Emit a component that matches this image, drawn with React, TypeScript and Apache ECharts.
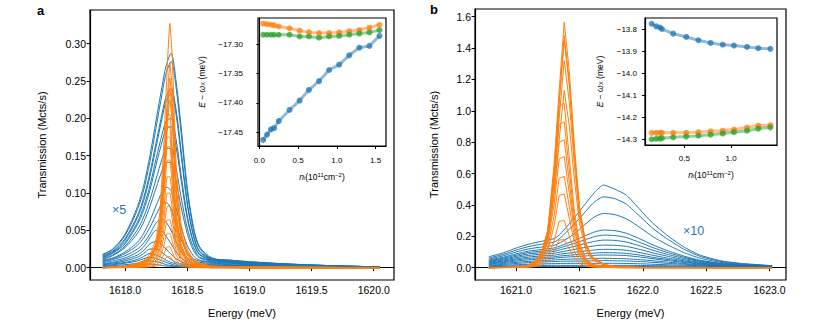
import React, { useEffect, useRef } from "react";
import * as echarts from "echarts";

const BLUE = "#1f77b4";
const ORANGE = "#ff7f0e";
const GREEN = "#2ca02c";
const FONT = "Liberation Sans, Arial, sans-serif";

// ---------- Panel a: energy grids ----------
const energyA_blue = [1617.82, 1617.9, 1618.0, 1618.1, 1618.15, 1618.2, 1618.25, 1618.3, 1618.33, 1618.37, 1618.41, 1618.45, 1618.5, 1618.55, 1618.6, 1618.7, 1618.85, 1619.0, 1619.3, 1619.6, 1620.05];
const blueA: number[][] = [
  [0.018, 0.025, 0.045, 0.082, 0.110, 0.150, 0.198, 0.245, 0.270, 0.287, 0.250, 0.190, 0.108, 0.055, 0.028, 0.013, 0.010, 0.008, 0.005, 0.003, 0.001],
  [0.017, 0.024, 0.043, 0.078, 0.104, 0.142, 0.188, 0.235, 0.260, 0.276, 0.242, 0.182, 0.102, 0.051, 0.026, 0.012, 0.010, 0.008, 0.005, 0.003, 0.001],
  [0.016, 0.022, 0.039, 0.070, 0.094, 0.127, 0.168, 0.208, 0.229, 0.240, 0.212, 0.158, 0.088, 0.044, 0.022, 0.012, 0.009, 0.007, 0.005, 0.003, 0.001],
  [0.015, 0.021, 0.037, 0.067, 0.090, 0.122, 0.162, 0.202, 0.223, 0.233, 0.205, 0.152, 0.085, 0.042, 0.021, 0.011, 0.009, 0.007, 0.004, 0.003, 0.001],
  [0.014, 0.020, 0.034, 0.061, 0.082, 0.110, 0.146, 0.180, 0.196, 0.200, 0.172, 0.125, 0.070, 0.035, 0.018, 0.011, 0.008, 0.006, 0.004, 0.002, 0.001],
  [0.013, 0.019, 0.032, 0.058, 0.077, 0.104, 0.138, 0.170, 0.185, 0.189, 0.162, 0.118, 0.066, 0.033, 0.017, 0.010, 0.008, 0.006, 0.004, 0.002, 0.001],
  [0.012, 0.017, 0.029, 0.051, 0.068, 0.091, 0.119, 0.147, 0.159, 0.160, 0.133, 0.095, 0.053, 0.027, 0.014, 0.010, 0.007, 0.006, 0.004, 0.002, 0.001],
  [0.011, 0.016, 0.027, 0.046, 0.061, 0.082, 0.107, 0.131, 0.141, 0.141, 0.116, 0.082, 0.046, 0.023, 0.013, 0.009, 0.007, 0.005, 0.003, 0.002, 0.001],
  [0.010, 0.013, 0.021, 0.034, 0.046, 0.063, 0.083, 0.102, 0.108, 0.103, 0.080, 0.054, 0.030, 0.016, 0.010, 0.008, 0.006, 0.005, 0.003, 0.002, 0.001],
  [0.009, 0.012, 0.019, 0.030, 0.040, 0.054, 0.071, 0.086, 0.087, 0.079, 0.058, 0.038, 0.021, 0.012, 0.009, 0.007, 0.006, 0.004, 0.003, 0.002, 0.001],
  [0.008, 0.011, 0.016, 0.025, 0.033, 0.045, 0.060, 0.065, 0.061, 0.050, 0.035, 0.022, 0.013, 0.009, 0.007, 0.006, 0.005, 0.004, 0.002, 0.001, 0.000],
  [0.007, 0.009, 0.013, 0.021, 0.028, 0.040, 0.050, 0.048, 0.042, 0.032, 0.021, 0.013, 0.008, 0.006, 0.005, 0.005, 0.004, 0.003, 0.002, 0.001, 0.000],
  [0.006, 0.007, 0.011, 0.017, 0.023, 0.032, 0.035, 0.030, 0.025, 0.018, 0.012, 0.008, 0.005, 0.004, 0.004, 0.004, 0.003, 0.003, 0.002, 0.001, 0.000],
  [0.005, 0.006, 0.009, 0.014, 0.019, 0.025, 0.025, 0.020, 0.016, 0.011, 0.007, 0.005, 0.004, 0.003, 0.003, 0.003, 0.003, 0.002, 0.001, 0.001, 0.000],
  [0.004, 0.005, 0.007, 0.011, 0.015, 0.019, 0.017, 0.013, 0.010, 0.007, 0.005, 0.003, 0.003, 0.003, 0.003, 0.003, 0.002, 0.002, 0.001, 0.001, 0.000],
  [0.003, 0.004, 0.006, 0.009, 0.012, 0.014, 0.012, 0.009, 0.007, 0.005, 0.003, 0.002, 0.002, 0.002, 0.002, 0.002, 0.002, 0.001, 0.001, 0.000, 0.000],
  [0.002, 0.003, 0.004, 0.006, 0.008, 0.009, 0.008, 0.006, 0.004, 0.003, 0.002, 0.001, 0.001, 0.001, 0.001, 0.001, 0.001, 0.001, 0.000, 0.000, 0.000],
  [0.001, 0.002, 0.002, 0.003, 0.004, 0.005, 0.004, 0.003, 0.002, 0.002, 0.001, 0.001, 0.001, 0.001, 0.001, 0.001, 0.000, 0.000, 0.000, 0.000, 0.000],
];

const energyA_orange = [1617.82, 1618.0, 1618.1, 1618.15, 1618.2, 1618.25, 1618.28, 1618.31, 1618.34, 1618.36, 1618.38, 1618.41, 1618.45, 1618.5, 1618.55, 1618.6, 1618.7, 1619.0, 1620.05];
const orangeA: number[][] = [
  [0, 0.002, 0.006, 0.010, 0.018, 0.039, 0.075, 0.160, 0.271, 0.327, 0.281, 0.141, 0.059, 0.025, 0.011, 0.006, 0.002, 0.001, 0],
  [0, 0.002, 0.005, 0.008, 0.015, 0.033, 0.063, 0.134, 0.227, 0.274, 0.236, 0.118, 0.049, 0.021, 0.010, 0.005, 0.002, 0.001, 0],
  [0, 0.002, 0.005, 0.008, 0.014, 0.030, 0.058, 0.124, 0.211, 0.254, 0.218, 0.109, 0.046, 0.019, 0.009, 0.005, 0.002, 0.001, 0],
  [0, 0.0014, 0.0043, 0.0072, 0.013, 0.029, 0.055, 0.118, 0.199, 0.240, 0.206, 0.103, 0.043, 0.018, 0.008, 0.004, 0.001, 0.001, 0],
  [0, 0.0014, 0.004, 0.0068, 0.012, 0.027, 0.052, 0.110, 0.187, 0.225, 0.194, 0.097, 0.041, 0.017, 0.008, 0.004, 0.001, 0.001, 0],
  [0, 0.0017, 0.0046, 0.0084, 0.015, 0.032, 0.061, 0.127, 0.205, 0.205, 0.158, 0.076, 0.032, 0.013, 0.006, 0.003, 0.001, 0, 0],
  [0, 0.0016, 0.0043, 0.0078, 0.014, 0.029, 0.057, 0.117, 0.189, 0.189, 0.146, 0.070, 0.029, 0.012, 0.006, 0.003, 0.001, 0, 0],
  [0, 0.0014, 0.004, 0.0072, 0.013, 0.027, 0.052, 0.108, 0.175, 0.175, 0.135, 0.065, 0.027, 0.011, 0.005, 0.003, 0.001, 0, 0],
  [0, 0.0013, 0.0037, 0.0067, 0.012, 0.025, 0.048, 0.100, 0.162, 0.162, 0.125, 0.060, 0.025, 0.010, 0.005, 0.003, 0.001, 0, 0],
  [0, 0.0012, 0.0033, 0.0059, 0.010, 0.022, 0.043, 0.089, 0.144, 0.144, 0.111, 0.053, 0.022, 0.009, 0.004, 0.002, 0.001, 0, 0],
  [0, 0.001, 0.0028, 0.005, 0.009, 0.019, 0.037, 0.076, 0.122, 0.122, 0.095, 0.045, 0.019, 0.008, 0.004, 0.002, 0.001, 0, 0],
  [0, 0.0008, 0.0023, 0.0041, 0.007, 0.015, 0.030, 0.062, 0.100, 0.100, 0.077, 0.037, 0.015, 0.006, 0.003, 0.002, 0.001, 0, 0],
  [0, 0.0007, 0.0019, 0.0034, 0.006, 0.013, 0.025, 0.051, 0.082, 0.082, 0.064, 0.031, 0.013, 0.005, 0.003, 0.001, 0, 0, 0],
  [0, 0.0005, 0.0015, 0.0026, 0.005, 0.010, 0.019, 0.040, 0.064, 0.064, 0.050, 0.024, 0.010, 0.004, 0.002, 0.001, 0, 0, 0],
  [0, 0.0004, 0.001, 0.0019, 0.003, 0.007, 0.014, 0.028, 0.046, 0.046, 0.035, 0.017, 0.007, 0.003, 0.001, 0.001, 0, 0, 0],
  [0, 0.0002, 0.0006, 0.0011, 0.002, 0.004, 0.008, 0.017, 0.028, 0.028, 0.021, 0.010, 0.004, 0.002, 0.001, 0, 0, 0, 0],
  [0, 0.0001, 0.0003, 0.0006, 0.001, 0.002, 0.004, 0.009, 0.015, 0.015, 0.011, 0.005, 0.002, 0.001, 0, 0, 0, 0, 0],
];

// ---------- Panel b ----------
const energyB_blue = [1620.785, 1620.9, 1621.0, 1621.1, 1621.2, 1621.3, 1621.35, 1621.45, 1621.55, 1621.62, 1621.69, 1621.78, 1621.87, 1621.98, 1622.08, 1622.19, 1622.32, 1622.45, 1622.61, 1622.77, 1623.02];
const blueB: number[][] = [
  [0.070, 0.095, 0.125, 0.150, 0.168, 0.185, 0.215, 0.310, 0.410, 0.480, 0.527, 0.500, 0.463, 0.368, 0.283, 0.208, 0.134, 0.081, 0.045, 0.028, 0.013],
  [0.062, 0.085, 0.112, 0.135, 0.150, 0.163, 0.190, 0.270, 0.360, 0.420, 0.452, 0.440, 0.405, 0.325, 0.250, 0.185, 0.120, 0.073, 0.041, 0.025, 0.012],
  [0.055, 0.076, 0.100, 0.120, 0.132, 0.143, 0.160, 0.210, 0.280, 0.325, 0.346, 0.338, 0.312, 0.255, 0.198, 0.148, 0.098, 0.061, 0.035, 0.022, 0.011],
  [0.048, 0.067, 0.088, 0.106, 0.116, 0.126, 0.140, 0.170, 0.205, 0.228, 0.240, 0.236, 0.220, 0.183, 0.145, 0.110, 0.075, 0.048, 0.029, 0.019, 0.010],
  [0.044, 0.061, 0.080, 0.097, 0.106, 0.115, 0.128, 0.152, 0.180, 0.198, 0.208, 0.205, 0.192, 0.160, 0.128, 0.098, 0.068, 0.044, 0.027, 0.018, 0.010],
  [0.040, 0.055, 0.072, 0.088, 0.096, 0.104, 0.115, 0.134, 0.155, 0.168, 0.176, 0.174, 0.164, 0.138, 0.111, 0.086, 0.060, 0.040, 0.025, 0.017, 0.009],
  [0.036, 0.049, 0.064, 0.078, 0.086, 0.092, 0.100, 0.115, 0.130, 0.139, 0.144, 0.143, 0.136, 0.116, 0.094, 0.074, 0.052, 0.035, 0.022, 0.015, 0.009],
  [0.032, 0.043, 0.056, 0.068, 0.075, 0.080, 0.087, 0.097, 0.107, 0.113, 0.117, 0.116, 0.111, 0.096, 0.079, 0.062, 0.045, 0.031, 0.020, 0.014, 0.008],
  [0.028, 0.038, 0.049, 0.059, 0.065, 0.069, 0.075, 0.082, 0.089, 0.093, 0.096, 0.095, 0.091, 0.080, 0.066, 0.053, 0.039, 0.027, 0.018, 0.013, 0.008],
  [0.024, 0.033, 0.042, 0.050, 0.056, 0.060, 0.065, 0.070, 0.075, 0.079, 0.081, 0.080, 0.077, 0.068, 0.057, 0.046, 0.034, 0.024, 0.016, 0.012, 0.007],
  [0.020, 0.027, 0.034, 0.040, 0.045, 0.049, 0.052, 0.055, 0.057, 0.059, 0.060, 0.059, 0.057, 0.051, 0.044, 0.036, 0.027, 0.020, 0.014, 0.010, 0.007],
  [0.016, 0.021, 0.027, 0.032, 0.036, 0.039, 0.041, 0.042, 0.043, 0.044, 0.045, 0.044, 0.043, 0.039, 0.034, 0.028, 0.022, 0.017, 0.012, 0.009, 0.006],
  [0.012, 0.015, 0.019, 0.022, 0.024, 0.026, 0.027, 0.028, 0.028, 0.028, 0.028, 0.028, 0.027, 0.025, 0.022, 0.019, 0.016, 0.013, 0.010, 0.008, 0.005],
  [0.008, 0.010, 0.012, 0.013, 0.014, 0.015, 0.015, 0.015, 0.015, 0.015, 0.015, 0.015, 0.015, 0.014, 0.013, 0.012, 0.010, 0.009, 0.007, 0.006, 0.004],
  [0.005, 0.006, 0.007, 0.007, 0.008, 0.008, 0.008, 0.008, 0.008, 0.008, 0.008, 0.008, 0.008, 0.008, 0.007, 0.007, 0.006, 0.005, 0.004, 0.004, 0.003],
];

const energyB_orange = [1620.785, 1621.0, 1621.1, 1621.15, 1621.2, 1621.25, 1621.3, 1621.34, 1621.38, 1621.42, 1621.46, 1621.5, 1621.55, 1621.6, 1621.7, 1621.8, 1622.0, 1623.02];
const orangeB: number[][] = [
  [0, 0.003, 0.016, 0.039, 0.094, 0.235, 0.657, 1.127, 1.565, 1.252, 0.783, 0.391, 0.157, 0.070, 0.019, 0.006, 0.002, 0],
  [0, 0.003, 0.015, 0.037, 0.089, 0.222, 0.622, 1.066, 1.480, 1.184, 0.740, 0.370, 0.148, 0.067, 0.018, 0.006, 0.001, 0],
  [0, 0.003, 0.015, 0.036, 0.087, 0.218, 0.609, 1.044, 1.450, 1.160, 0.725, 0.363, 0.145, 0.065, 0.017, 0.006, 0.001, 0],
  [0, 0.003, 0.013, 0.033, 0.079, 0.198, 0.554, 0.950, 1.320, 1.056, 0.660, 0.330, 0.132, 0.059, 0.016, 0.005, 0.001, 0],
  [0, 0.002, 0.011, 0.028, 0.068, 0.170, 0.475, 0.814, 1.130, 0.904, 0.565, 0.283, 0.113, 0.051, 0.014, 0.005, 0.001, 0],
  [0, 0.003, 0.016, 0.043, 0.097, 0.238, 0.594, 1.026, 1.048, 0.702, 0.356, 0.162, 0.059, 0.022, 0.006, 0.002, 0.001, 0],
  [0, 0.003, 0.014, 0.038, 0.086, 0.211, 0.528, 0.912, 0.931, 0.624, 0.317, 0.144, 0.053, 0.019, 0.006, 0.002, 0.001, 0],
  [0, 0.003, 0.013, 0.034, 0.076, 0.185, 0.462, 0.798, 0.815, 0.546, 0.277, 0.126, 0.046, 0.017, 0.005, 0.002, 0.001, 0],
  [0, 0.002, 0.011, 0.029, 0.066, 0.161, 0.402, 0.694, 0.708, 0.475, 0.241, 0.110, 0.040, 0.015, 0.004, 0.001, 0, 0],
  [0, 0.002, 0.009, 0.024, 0.054, 0.132, 0.330, 0.570, 0.582, 0.390, 0.198, 0.090, 0.033, 0.012, 0.004, 0.001, 0, 0],
  [0, 0.001, 0.007, 0.019, 0.044, 0.107, 0.267, 0.461, 0.470, 0.315, 0.160, 0.073, 0.027, 0.010, 0.003, 0.001, 0, 0],
  [0, 0.001, 0.005, 0.012, 0.028, 0.068, 0.171, 0.295, 0.301, 0.202, 0.102, 0.047, 0.017, 0.006, 0.002, 0.001, 0, 0],
  [0, 0.001, 0.003, 0.007, 0.017, 0.041, 0.102, 0.176, 0.179, 0.120, 0.061, 0.028, 0.010, 0.004, 0.001, 0, 0, 0],
];

// ---------- Insets ----------
const densityA = [0.05, 0.10, 0.15, 0.19, 0.25, 0.39, 0.52, 0.64, 0.77, 0.90, 1.03, 1.16, 1.29, 1.42, 1.55];
const insetA_blue = [-17.463, -17.454, -17.445, -17.443, -17.431, -17.412, -17.396, -17.378, -17.363, -17.344, -17.335, -17.319, -17.306, -17.303, -17.286];
const insetA_orange = [-17.265, -17.266, -17.267, -17.268, -17.270, -17.273, -17.277, -17.280, -17.281, -17.281, -17.280, -17.278, -17.276, -17.272, -17.267];
const insetA_green = [-17.284, -17.284, -17.284, -17.284, -17.284, -17.284, -17.287, -17.287, -17.289, -17.287, -17.286, -17.284, -17.282, -17.280, -17.276];

const densityB = [0.15, 0.20, 0.24, 0.26, 0.38, 0.52, 0.65, 0.78, 0.91, 1.03, 1.17, 1.29, 1.42];
const insetB_blue = [-13.776, -13.788, -13.793, -13.800, -13.821, -13.836, -13.851, -13.863, -13.871, -13.875, -13.881, -13.887, -13.890];
const insetB_orange = [-14.271, -14.271, -14.271, -14.271, -14.271, -14.271, -14.268, -14.264, -14.261, -14.256, -14.247, -14.238, -14.236];
const insetB_green = [-14.300, -14.298, -14.297, -14.295, -14.291, -14.288, -14.284, -14.279, -14.274, -14.268, -14.261, -14.252, -14.246];

// tick values
const ticksA_x = [1618.0, 1618.5, 1619.0, 1619.5, 1620.0];
const ticksA_y = [0, 0.05, 0.1, 0.15, 0.2, 0.25, 0.3];
const ticksB_x = [1621.0, 1621.5, 1622.0, 1622.5, 1623.0];
const ticksB_y = [0, 0.2, 0.4, 0.6, 0.8, 1.0, 1.2, 1.4, 1.6];
const ticksIA_x = [0, 0.5, 1.0, 1.5];
const ticksIA_y = [-17.45, -17.4, -17.35, -17.3];
const ticksIB_x = [0.5, 1.0];
const ticksIB_y = [-14.3, -14.2, -14.1, -14.0, -13.9, -13.8];

const fmt = (d: number) => (v: number) => (v < -1e-9 ? "\u2212" : "") + Math.abs(v).toFixed(d);

function axis(gridIndex: number, min: number, max: number, ticks: number[], dec: number, fs: number, margin: number, extra: any = {}) {
  return {
    type: "value",
    gridIndex,
    min,
    max,
    splitLine: { show: false },
    axisLine: { show: true, lineStyle: { color: "#000", width: 1.2 } },
    axisTick: { show: true, inside: false, length: fs > 9 ? 3.5 : 3, lineStyle: { color: "#000", width: 1 }, customValues: ticks },
    axisLabel: { show: true, customValues: ticks, formatter: fmt(dec), color: "#000", fontSize: fs, fontFamily: FONT, margin },
    ...extra,
  };
}

const pairs = (xs: number[], ys: number[]) => xs.map((x, i) => [x, ys[i]]);

const richIns = {
  it: { fontStyle: "italic", fontSize: 8.5, fontFamily: FONT, color: "#000" },
  sub: { fontSize: 6, fontFamily: FONT, color: "#000", verticalAlign: "bottom", padding: [3, 0, 0, 0] },
  sup: { fontSize: 6, fontFamily: FONT, color: "#000", verticalAlign: "top", padding: [0, 0, 3, 0] },
  n: { fontSize: 8.5, fontFamily: FONT, color: "#000" },
};

export default function App() {
  const ref = useRef<HTMLDivElement>(null);
  useEffect(() => {
    if (!ref.current) return;
    const chart = echarts.init(ref.current, undefined, { renderer: "svg" });
    const series: any[] = [];
    blueA.forEach((ys) =>
      series.push({ type: "line", xAxisIndex: 0, yAxisIndex: 0, data: pairs(energyA_blue, ys), symbol: "none", smooth: 0.3, silent: true, lineStyle: { color: BLUE, width: 1 } })
    );
    orangeA.forEach((ys) =>
      series.push({ type: "line", xAxisIndex: 0, yAxisIndex: 0, data: pairs(energyA_orange, ys), symbol: "none", smooth: 0.15, silent: true, lineStyle: { color: ORANGE, width: 1 } })
    );
    blueB.forEach((ys) =>
      series.push({ type: "line", xAxisIndex: 2, yAxisIndex: 2, data: pairs(energyB_blue, ys), symbol: "none", smooth: 0.2, silent: true, lineStyle: { color: BLUE, width: 1 } })
    );
    orangeB.forEach((ys) =>
      series.push({ type: "line", xAxisIndex: 2, yAxisIndex: 2, data: pairs(energyB_orange, ys), symbol: "none", smooth: false, silent: true, lineStyle: { color: ORANGE, width: 1 } })
    );
    const inset = (xi: number, xs: number[], ys: number[], c: string) => ({
      type: "line",
      xAxisIndex: xi,
      yAxisIndex: xi,
      data: pairs(xs, ys),
      symbol: "circle",
      symbolSize: 6,
      silent: true,
      itemStyle: { color: c, opacity: 0.75 },
      lineStyle: { color: c, width: 3, opacity: 0.5 },
      z: 5,
    });
    series.push(inset(1, densityA, insetA_blue, BLUE));
    series.push(inset(1, densityA, insetA_orange, ORANGE));
    series.push(inset(1, densityA, insetA_green, GREEN));
    series.push(inset(3, densityB, insetB_blue, BLUE));
    series.push(inset(3, densityB, insetB_orange, ORANGE));
    series.push(inset(3, densityB, insetB_green, GREEN));

    const mainName = { fontSize: 11, color: "#000", fontFamily: FONT };
    const insName = { fontSize: 8.5, color: "#000", fontFamily: FONT, rich: richIns };
    const insYName = "{it|E}{n| \u2212 }{it|\u03c9}{sub|X}{n| (meV)}";
    const insXName = "{it|n}{sub|i}{n|(10}{sup|11}{n|cm}{sup|\u22122}{n|)}";

    chart.setOption({
      animation: false,
      grid: [
        { left: 90, top: 10, width: 304, height: 270, show: true, borderColor: "#000", borderWidth: 1.2, containLabel: false },
        { left: 258, top: 18, width: 128, height: 128, show: true, borderColor: "#000", borderWidth: 1.2, backgroundColor: "#fff", containLabel: false },
        { left: 475, top: 9, width: 311, height: 271, show: true, borderColor: "#000", borderWidth: 1.2, containLabel: false },
        { left: 645, top: 18, width: 132, height: 127, show: true, borderColor: "#000", borderWidth: 1.2, backgroundColor: "#fff", containLabel: false },
      ],
      xAxis: [
        axis(0, 1617.718, 1620.163, ticksA_x, 1, 10.5, 4, { name: "Energy (meV)", nameLocation: "middle", nameGap: 27, nameTextStyle: mainName }),
        axis(1, -0.017, 1.634, ticksIA_x, 1, 8, 10, { name: insXName, nameLocation: "middle", nameGap: 26, nameTextStyle: insName }),
        axis(2, 1620.676, 1623.13, ticksB_x, 1, 10.5, 4, { name: "Energy (meV)", nameLocation: "middle", nameGap: 27, nameTextStyle: mainName }),
        axis(3, 0.079, 1.49, ticksIB_x, 1, 8, 9, { name: insXName, nameLocation: "middle", nameGap: 25, nameTextStyle: insName }),
      ],
      yAxis: [
        axis(0, -0.0165, 0.345, ticksA_y, 2, 10.5, 4, { name: "Transmission (Mcts/s)", nameLocation: "middle", nameGap: 43, nameTextStyle: mainName }),
        axis(1, -17.4734, -17.2555, ticksIA_y, 2, 8, 15, { name: insYName, nameLocation: "middle", nameGap: 52, nameTextStyle: insName }),
        axis(2, -0.0784, 1.649, ticksB_y, 1, 10.5, 4, { name: "Transmission (Mcts/s)", nameLocation: "middle", nameGap: 36, nameTextStyle: mainName }),
        axis(3, -14.326, -13.75, ticksIB_y, 1, 8, 8, { name: insYName, nameLocation: "middle", nameGap: 41, nameTextStyle: insName }),
      ],
      graphic: [
        { type: "text", left: 37, top: 4, style: { text: "a", font: "bold 13px " + FONT, fill: "#000" } },
        { type: "text", left: 430, top: 3, style: { text: "b", font: "bold 13px " + FONT, fill: "#000" } },
        { type: "text", left: 112, top: 203, style: { text: "\u00d75", font: "12.5px " + FONT, fill: BLUE } },
        { type: "text", left: 683, top: 224, style: { text: "\u00d710", font: "12.5px " + FONT, fill: BLUE } },
      ],
      series,
    });
    return () => chart.dispose();
  }, []);
  return <div ref={ref} style={{ position: "absolute", left: 0, top: 0, width: 830, height: 323 }} />;
}
